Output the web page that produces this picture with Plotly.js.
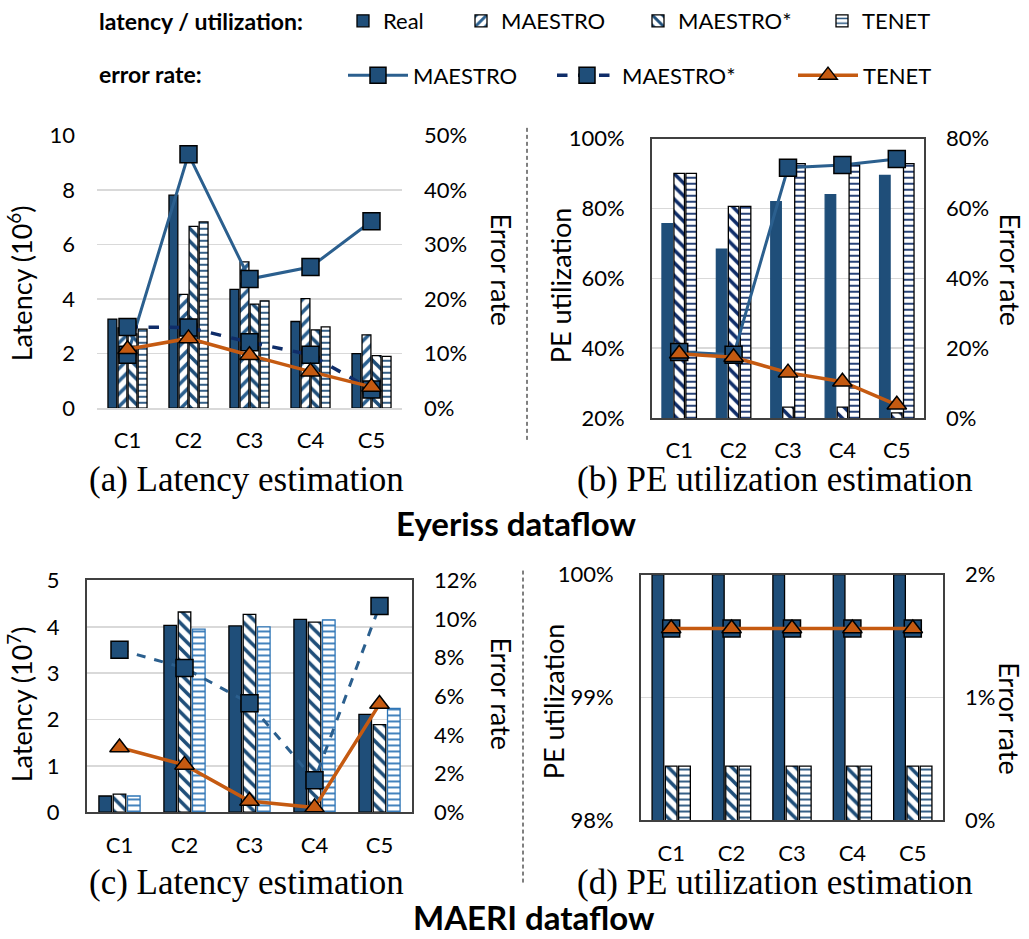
<!DOCTYPE html>
<html><head><meta charset="utf-8">
<script src="https://cdn.plot.ly/plotly-3.0.1.min.js"></script>
<style>html,body{margin:0;padding:0;background:#fff;} #chart{width:1029px;height:939px;}</style>
</head><body><div id="chart"></div>
<script>
// ---------- data ----------
const categories = ['C1', 'C2', 'C3', 'C4', 'C5'];

// (a) Eyeriss latency (10^6) and error rate
const aLatReal = [3.27, 7.82, 4.36, 3.18, 2.00];
const aLatMaestro = [2.95, 4.18, 5.37, 4.02, 2.69];
const aLatMaestroStar = [2.73, 6.67, 3.82, 2.87, 1.93];
const aLatTenet = [2.90, 6.84, 3.94, 2.98, 1.90];
const aErrMaestro = [0.098, 0.466, 0.237, 0.259, 0.343];
const aErrMaestroStar = [0.149, 0.148, 0.121, 0.098, 0.034];
const aErrTenet = [0.108, 0.128, 0.097, 0.067, 0.039];

// (b) Eyeriss PE utilization and error rate
const bUtilReal = [0.757, 0.684, 0.820, 0.840, 0.895];
const bUtilMaestroStar = [0.901, 0.806, 0.231, 0.231, 0.215];
const bUtilTenet = [0.901, 0.806, 0.929, 0.925, 0.929];
const bErrMaestro = [0.189, 0.181, 0.717, 0.725, 0.742];
const bErrTenet = [0.184, 0.174, 0.130, 0.104, 0.038];

// (c) MAERI latency (10^7) and error rate
const cLatReal = [0.35, 4.03, 4.02, 4.16, 2.11];
const cLatMaestroStar = [0.39, 4.32, 4.27, 4.10, 1.89];
const cLatTenet = [0.35, 3.95, 4.00, 4.15, 2.24];
const cErrMaestroStar = [0.0841, 0.0747, 0.0564, 0.0166, 0.1068];
const cErrTenet = [0.0335, 0.0245, 0.0058, 0.0024, 0.0560];

// (d) MAERI PE utilization and error rate
const dUtilReal = [1.0, 1.0, 1.0, 1.0, 1.0];
const dUtilMaestroStar = [0.9844, 0.9844, 0.9844, 0.9844, 0.9844];
const dUtilTenet = [0.9844, 0.9844, 0.9844, 0.9844, 0.9844];
const dErrMaestroStar = [0.0156, 0.0156, 0.0156, 0.0156, 0.0156];
const dErrTenet = [0.0156, 0.0156, 0.0156, 0.0156, 0.0156];

// ---------- styles ----------
const W = 1029, H = 939;
const px = v => v / W;
const py = v => 1 - v / H;
const REAL = '#1f4e79';
const BLUE = '#2b5f8e';
const NAVY = '#0f2d69';
const ORANGE = '#c55a11';
const GRID = '#d9d9d9';
const FRAME = '#404040';
const FONT = 'Lato';

function barTrace(name, y, xa, ya, opts) {
  const t = {
    type: 'bar', name: name, x: categories, y: y, xaxis: xa, yaxis: ya,
    hoverinfo: 'skip', showlegend: !!opts.legend,
    marker: { color: opts.fill || '#ffffff', line: { color: opts.edge || '#000', width: 1.3 } }
  };
  if (opts.legend) t.legend = opts.legend;
  if (opts.shape) {
    t.marker.pattern = { shape: opts.shape, fgcolor: opts.fg, bgcolor: '#ffffff',
      size: opts.size || 9, solidity: opts.solidity || 0.4, fillmode: 'replace' };
  }
  return t;
}
function lineTrace(name, y, xa, ya, opts) {
  const t = {
    type: 'scatter', mode: 'lines+markers', name: name, x: categories, y: y,
    xaxis: xa, yaxis: ya, hoverinfo: 'skip', showlegend: !!opts.legend,
    line: { color: opts.color, width: opts.width || 3, dash: opts.dash || 'solid' },
    marker: { symbol: opts.symbol, size: opts.size, color: opts.mfill,
      line: { color: '#000', width: 1.5 } }
  };
  if (opts.legend) t.legend = opts.legend;
  return t;
}
const SQ = { symbol: 'square', size: 17, mfill: REAL };
const TRI = { symbol: 'triangle-up', size: 17, mfill: ORANGE };

const data = [
  // (a)
  barTrace('Real', aLatReal, 'x', 'y', { fill: REAL, legend: 'legend' }),
  barTrace('MAESTRO', aLatMaestro, 'x', 'y', { shape: '/', fg: BLUE, legend: 'legend2' }),
  barTrace('MAESTRO*', aLatMaestroStar, 'x', 'y', { shape: '\\', fg: REAL, legend: 'legend3' }),
  barTrace('TENET', aLatTenet, 'x', 'y', { shape: '-', fg: REAL, size: 6, solidity: 0.3, legend: 'legend4' }),
  lineTrace('MAESTRO', aErrMaestro, 'x', 'y5', Object.assign({ color: BLUE, legend: 'legend5' }, SQ)),
  lineTrace('MAESTRO*', aErrMaestroStar, 'x', 'y5', Object.assign({ color: NAVY, dash: 'dash', width: 3.5, legend: 'legend6' }, SQ)),
  lineTrace('TENET', aErrTenet, 'x', 'y5', Object.assign({ color: ORANGE, width: 3.5, legend: 'legend7' }, TRI)),
  // (b)
  barTrace('Real', bUtilReal, 'x2', 'y2', { fill: REAL, edge: REAL }),
  barTrace('MAESTRO*', bUtilMaestroStar, 'x2', 'y2', { shape: '\\', fg: NAVY }),
  barTrace('TENET', bUtilTenet, 'x2', 'y2', { shape: '-', fg: NAVY, size: 6, solidity: 0.3 }),
  lineTrace('MAESTRO', bErrMaestro, 'x2', 'y6', Object.assign({ color: BLUE }, SQ)),
  lineTrace('TENET', bErrTenet, 'x2', 'y6', Object.assign({ color: ORANGE, width: 3.5 }, TRI)),
  // (c)
  barTrace('Real', cLatReal, 'x3', 'y3', { fill: REAL }),
  barTrace('MAESTRO*', cLatMaestroStar, 'x3', 'y3', { shape: '\\', fg: REAL }),
  barTrace('TENET', cLatTenet, 'x3', 'y3', { shape: '-', fg: '#2e75b6', edge: '#2e75b6', size: 6, solidity: 0.3 }),
  lineTrace('MAESTRO*', cErrMaestroStar, 'x3', 'y7', Object.assign({ color: BLUE, dash: 'dash' }, SQ)),
  lineTrace('TENET', cErrTenet, 'x3', 'y7', Object.assign({ color: ORANGE, width: 3.5 }, TRI)),
  // (d)
  barTrace('Real', dUtilReal, 'x4', 'y4', { fill: REAL }),
  barTrace('MAESTRO*', dUtilMaestroStar, 'x4', 'y4', { shape: '\\', fg: REAL }),
  barTrace('TENET', dUtilTenet, 'x4', 'y4', { shape: '-', fg: REAL, size: 6, solidity: 0.3 }),
  lineTrace('MAESTRO*', dErrMaestroStar, 'x4', 'y8', Object.assign({ color: BLUE, dash: 'dash' }, SQ)),
  lineTrace('TENET', dErrTenet, 'x4', 'y8', Object.assign({ color: ORANGE, width: 3.5 }, TRI))
];

const tickFont = { family: FONT, size: 22, color: '#000' };
function xAx(x0, x1, anchor, frame) {
  return { domain: [px(x0), px(x1)], anchor: anchor, type: 'category', tickfont: tickFont,
    ticks: '', ticklabelstandoff: 12, showgrid: false, zeroline: false, fixedrange: true,
    showline: true, linecolor: frame ? FRAME : GRID, linewidth: frame ? 2 : 1.5, mirror: !!frame };
}
function yL(y0, y1, anchor, range, dtick, fmt, frame) {
  return { domain: [py(y1), py(y0)], anchor: anchor, range: range, dtick: dtick, tick0: 0,
    tickformat: fmt, tickfont: tickFont, ticks: '', ticklabelstandoff: 21, fixedrange: true,
    showgrid: true, gridcolor: GRID, gridwidth: 1.5, zeroline: false,
    showline: !!frame, linecolor: FRAME, linewidth: 2, mirror: !!frame };
}
function yR(overlay, anchor, range, dtick) {
  return { overlaying: overlay, side: 'right', anchor: anchor, range: range, dtick: dtick, tick0: 0,
    tickformat: '.0%', tickfont: tickFont, ticks: '', ticklabelstandoff: 21, fixedrange: true,
    showgrid: false, zeroline: false, showline: false };
}
function leg(xPx, yPx, itemwidth) {
  return { x: px(xPx), y: py(yPx), xanchor: 'left', yanchor: 'middle', orientation: 'h',
    bgcolor: 'rgba(0,0,0,0)', borderwidth: 0, itemwidth: itemwidth,
    font: { family: FONT, size: 22, color: '#000' }, itemclick: false, itemdoubleclick: false };
}
function ann(text, xPx, yPx, opts) {
  return Object.assign({ text: text, xref: 'paper', yref: 'paper', x: px(xPx), y: py(yPx),
    xanchor: 'center', yanchor: 'middle', showarrow: false,
    font: { family: FONT, size: 27, color: '#000' } }, opts || {});
}
const capFont = { family: 'Liberation Serif', size: 35, color: '#000' };
const bigFont = { family: FONT, size: 33, color: '#000', weight: 'bold' };
const legTitleFont = { family: FONT, size: 23, color: '#000', weight: 'bold' };

const layout = {
  width: W, height: H, margin: { l: 0, r: 0, t: 0, b: 0 },
  paper_bgcolor: '#fff', plot_bgcolor: 'rgba(0,0,0,0)',
  font: { family: FONT, color: '#000' },
  barmode: 'group', bargap: 0.34, bargroupgap: 0.12,
  xaxis: xAx(97, 402, 'y', false),
  yaxis: yL(128, 403, 'x', [0, 10], 2, '', false),
  yaxis5: yR('y', 'x', [0, 0.5], 0.1),
  xaxis2: xAx(652, 924, 'y2', true),
  yaxis2: yL(131, 413, 'x2', [0.2, 1.0], 0.2, '.0%', true),
  yaxis6: yR('y2', 'x2', [0, 0.8], 0.2),
  xaxis3: xAx(87, 412, 'y3', true),
  yaxis3: yL(577, 811, 'x3', [0, 5], 1, '', true),
  yaxis7: yR('y3', 'x3', [0, 0.12], 0.02),
  xaxis4: xAx(641, 943, 'y4', true),
  yaxis4: yL(571, 819, 'x4', [0.98, 1.0], 0.01, '.0%', true),
  yaxis8: yR('y4', 'x4', [0, 0.02], 0.01),
  legend: leg(343, 12, 30),
  legend2: leg(461, 12, 30),
  legend3: leg(638, 12, 30),
  legend4: leg(822, 12, 30),
  legend5: leg(343, 67, 60),
  legend6: leg(552, 67, 60),
  legend7: leg(793, 67, 60),
  annotations: [
    ann('latency / utilization:', 97, 12, { xanchor: 'left', font: legTitleFont }),
    ann('error rate:', 97, 66, { xanchor: 'left', font: legTitleFont }),
    ann('Latency (10<sup>6</sup>)', 20, 277, { textangle: -90 }),
    ann('Error rate', 502, 263, { textangle: 90 }),
    ann('PE utilization', 560, 279, { textangle: -90 }),
    ann('Error rate', 1011, 263, { textangle: 90 }),
    ann('Latency (10<sup>7</sup>)', 20, 702, { textangle: -90 }),
    ann('Error rate', 502, 691, { textangle: 90 }),
    ann('PE utilization', 553, 699, { textangle: -90 }),
    ann('Error rate', 1010, 716, { textangle: 90 }),
    ann('(a) Latency estimation', 246, 475, { font: capFont }),
    ann('(b) PE utilization estimation', 775, 475, { font: capFont }),
    ann('Eyeriss dataflow', 516, 519, { font: bigFont }),
    ann('(c) Latency estimation', 246, 882, { font: capFont }),
    ann('(d) PE utilization estimation', 775, 882, { font: capFont }),
    ann('MAERI dataflow', 534, 917, { font: bigFont })
  ],
  shapes: [
    { type: 'line', xref: 'paper', yref: 'paper', x0: px(527), x1: px(527), y0: py(120), y1: py(437),
      line: { color: '#000', width: 1, dash: '4px,3px' } },
    { type: 'line', xref: 'paper', yref: 'paper', x0: px(523), x1: px(523), y0: py(567), y1: py(884),
      line: { color: '#000', width: 1, dash: '4px,3px' } }
  ]
};

Plotly.newPlot('chart', data, layout, { staticPlot: true, displayModeBar: false });
</script>
</body></html>
